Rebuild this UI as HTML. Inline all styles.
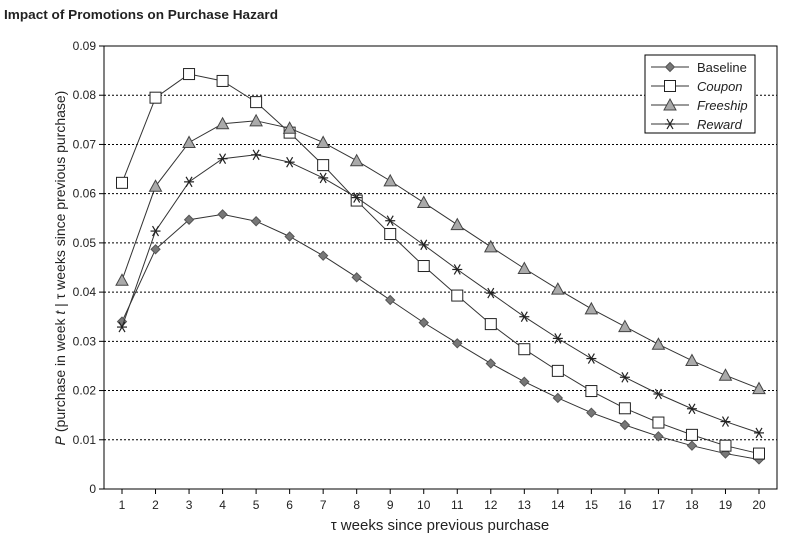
<!DOCTYPE html>
<html><head><meta charset="utf-8"><style>
html,body{margin:0;padding:0;background:#fff;width:785px;height:545px;overflow:hidden}
svg text{font-family:"Liberation Sans",sans-serif;fill:#222}
</style></head><body>
<svg id="chart" width="785" height="545" xmlns="http://www.w3.org/2000/svg">
<text x="4" y="19" font-size="13" font-weight="bold" textLength="274" lengthAdjust="spacingAndGlyphs">Impact of Promotions on Purchase Hazard</text>
<g id="grid"></g><g id="axes"></g><g id="series"></g>
<text x="440" y="530" font-size="15" text-anchor="middle">τ weeks since previous purchase</text>
<text transform="translate(65,268) rotate(-90)" font-size="14" text-anchor="middle"><tspan font-style="italic">P</tspan> (purchase in week <tspan font-style="italic">t</tspan> | τ weeks since previous purchase)</text>
<g id="legend"></g>
</svg>
<script>
const weeks=[1,2,3,4,5,6,7,8,9,10,11,12,13,14,15,16,17,18,19,20];
const yTicks=[0,0.01,0.02,0.03,0.04,0.05,0.06,0.07,0.08,0.09];
const yTickLabels=["0","0.01","0.02","0.03","0.04","0.05","0.06","0.07","0.08","0.09"];
const baseline=[0.034,0.0487,0.0547,0.0558,0.0544,0.0513,0.0474,0.0430,0.0384,0.0338,0.0296,0.0255,0.0218,0.0185,0.0155,0.013,0.0107,0.0088,0.0072,0.006];
const coupon=[0.0622,0.0795,0.0843,0.0829,0.0786,0.0724,0.0658,0.0586,0.0518,0.0453,0.0393,0.0335,0.0284,0.0240,0.0199,0.0164,0.0135,0.0110,0.0088,0.0072];
const freeship=[0.0424,0.0615,0.0704,0.0742,0.0748,0.0733,0.0704,0.0667,0.0626,0.0582,0.0537,0.0492,0.0448,0.0406,0.0366,0.0330,0.0294,0.0261,0.0231,0.0204];
const reward=[0.0329,0.0524,0.0624,0.0671,0.0679,0.0664,0.0632,0.0592,0.0545,0.0496,0.0446,0.0398,0.0350,0.0306,0.0265,0.0227,0.0193,0.0163,0.0137,0.0114];
const seriesNames=["Baseline","Coupon","Freeship","Reward"];
const NS="http://www.w3.org/2000/svg";
const L=104,R=777,T=46,B=489;
const x=w=>122+(w-1)*(759-122)/19;
const y=v=>B-(v/0.09)*(B-T);
function mk(tag,attrs,parent){const e=document.createElementNS(NS,tag);for(const k in attrs)e.setAttribute(k,attrs[k]);parent.appendChild(e);return e;}
const grid=document.getElementById('grid'),axes=document.getElementById('axes'),ser=document.getElementById('series'),leg=document.getElementById('legend');
yTicks.forEach((t,i)=>{
 if(t>0&&t<0.09){const g=mk('line',{x1:L,x2:R,y1:y(t),y2:y(t),stroke:'#000','stroke-width':1,'stroke-dasharray':'2,2'},grid);
 
 }
 const tk=mk('line',{x1:L-5,x2:L,y1:y(t),y2:y(t),stroke:'#000'},axes);
 
 
 const tx=mk('text',{x:L-8,y:y(t)+4,'font-size':12,'text-anchor':'end'},axes);tx.textContent=yTickLabels[i];
 
 
});
const frame=mk('rect',{x:L,y:T,width:R-L,height:B-T,fill:'none',stroke:'#000','stroke-width':1},axes);


weeks.forEach(w=>{
 const tk=mk('line',{x1:x(w),x2:x(w),y1:B,y2:B+5,stroke:'#000'},axes);
 
 
 const tx=mk('text',{x:x(w),y:B+20,'font-size':12,'text-anchor':'middle'},axes);tx.textContent=w;
 
 
});
function marker(type,cx,cy,p){
 if(type===0)return mk('polygon',{points:`${cx},${cy-4.5} ${cx+4.5},${cy} ${cx},${cy+4.5} ${cx-4.5},${cy}`,fill:'#777',stroke:'#555'},p);
 if(type===1)return mk('rect',{x:cx-5.5,y:cy-5.5,width:11,height:11,fill:'#fff',stroke:'#222','stroke-width':1},p);
 if(type===2)return mk('polygon',{points:`${cx},${cy-6} ${cx+6},${cy+5} ${cx-6},${cy+5}`,fill:'#aaa',stroke:'#444'},p);
 const g=mk('g',{stroke:'#222','stroke-width':1.2},p);
 mk('line',{x1:cx-5,y1:cy,x2:cx+5,y2:cy},g);mk('line',{x1:cx-3,y1:cy-5,x2:cx+3,y2:cy+5},g);mk('line',{x1:cx+3,y1:cy-5,x2:cx-3,y2:cy+5},g);
 return g;
}
[baseline,coupon,freeship,reward].forEach((vals,si)=>{
 const g=mk('g',{},ser);
 
 
 const pl=mk('polyline',{points:vals.map((v,i)=>x(weeks[i])+','+y(v)).join(' '),fill:'none',stroke:'#333','stroke-width':1},g);
 
 
 vals.forEach((v,i)=>{const m=marker(si,x(weeks[i]),y(v),g);
  
  });
});
const lb=mk('rect',{x:645,y:55,width:110,height:78,fill:'#fff',stroke:'#000'},leg);


seriesNames.forEach((n,i)=>{
 const ly=67+i*19;
 const g=mk('g',{},leg);
 
 
 mk('line',{x1:651,x2:689,y1:ly,y2:ly,stroke:'#333'},g);
 marker(i,670,ly,g);
 const t=mk('text',{x:697,y:ly+5,'font-size':13,'font-style':i?'italic':'normal'},g);t.textContent=n;
});
</script>
</body></html>
